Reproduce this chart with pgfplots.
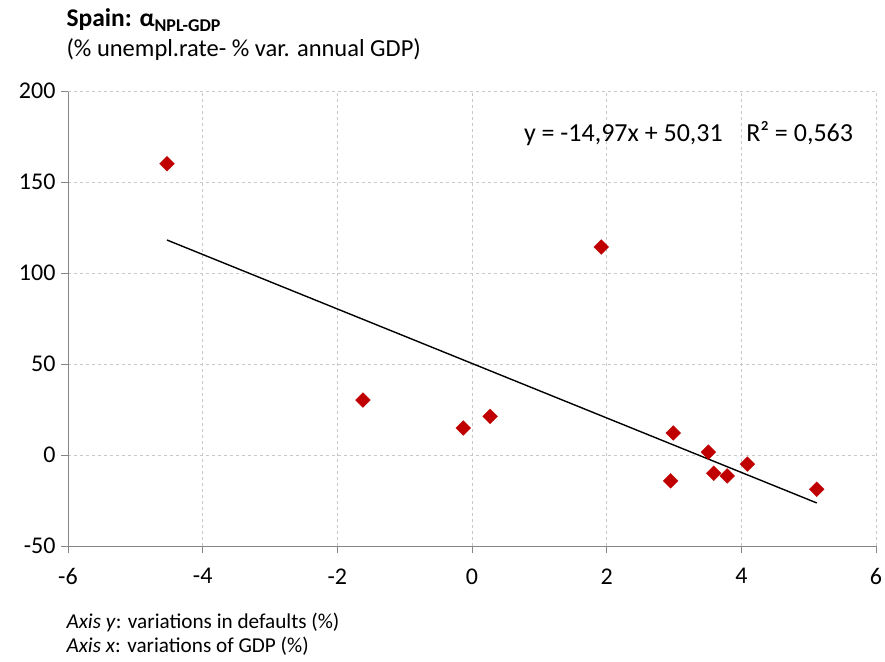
\documentclass[border=0pt]{standalone}
\usepackage{pgfplots}
\pgfplotsset{compat=1.18}
\usepackage{fontspec}
\setmainfont{Carlito}
\definecolor{mred}{HTML}{C00000}
\definecolor{gridc}{HTML}{C8C8C8}
\definecolor{axc}{HTML}{868686}
\begin{document}
\begin{tikzpicture}
\path[use as bounding box] (-68pt,-115pt) rectangle (817pt,546pt);
\begin{axis}[
  scale only axis,
  width=808pt, height=455pt,
  xmin=-6, xmax=6, ymin=-50, ymax=200,
  xtick={-6,-4,...,6}, ytick={-50,0,...,200},
  axis x line*=bottom, axis y line*=left,
  axis line style={axc, line width=0.9pt},
  major tick style={axc, line width=0.9pt},
  tick align=outside, major tick length=7pt,
  grid=major,
  major grid style={gridc, dash pattern=on 3pt off 3pt, line width=0.8pt},
  /pgf/number format/assume math mode=true,
  ticklabel style={font=\fontsize{24}{26}\selectfont},
  xticklabel style={yshift=-12pt},
  yticklabel style={xshift=-2pt},
  clip=false,
]
\draw[gridc, dash pattern=on 3pt off 3pt, line width=0.8pt] (axis cs:-6,200) -- (axis cs:6,200) -- (axis cs:6,-50);
\addplot[black, line width=1.4pt] coordinates {(-4.53,118.12) (5.12,-26.34)};
\addplot[only marks, mark=square*, mark size=5.2pt, mark options={fill=mred, draw=mred, rotate=45}] coordinates {
(-4.53,160)
(-1.62,30.2)
(-0.13,14.8)
(0.27,21.2)
(1.92,114.3)
(2.99,12.1)
(2.95,-14.2)
(3.51,1.6)
(3.59,-10)
(3.79,-11.5)
(4.09,-5)
(5.12,-18.8)
};
\node[anchor=base west, font=\fontsize{26}{28}\selectfont] at (axis cs:0.72,172.5) {y = -14,97x + 50,31\hspace{0.9em}R² = 0,563};
\end{axis}
\node[anchor=base west, font=\fontsize{25.5}{28}\selectfont\bfseries] at (-5pt,519pt) {Spain: α\raisebox{-0.4ex}{\fontsize{18}{19}\selectfont NPL-GDP}};
\node[anchor=base west, font=\fontsize{24.5}{26}\selectfont] at (-5pt,489pt) {(\% unempl.rate- \% var. annual GDP)};
\node[anchor=base west, font=\fontsize{21.2}{22}\selectfont] at (-5pt,-82pt) {\textit{Axis y}: variations in defaults (\%)};
\node[anchor=base west, font=\fontsize{21.2}{22}\selectfont] at (-5pt,-106pt) {\textit{Axis x}: variations of GDP (\%)};
\end{tikzpicture}
\end{document}
